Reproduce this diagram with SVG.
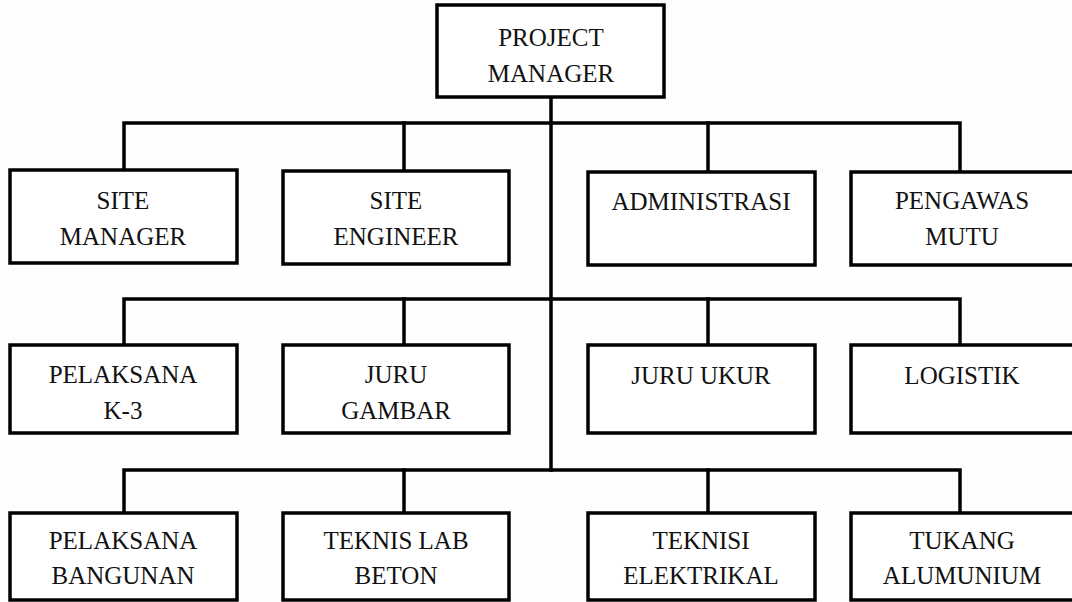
<svg xmlns="http://www.w3.org/2000/svg" width="1072" height="602" viewBox="0 0 1072 602">
<style>
.box{fill:#ffffff;stroke:#000;stroke-width:3.5}
.ln{fill:none;stroke:#000;stroke-width:3.5;stroke-linecap:square}
text{font-family:"Liberation Serif","Times New Roman",serif;font-size:25px;fill:#111;text-anchor:middle}
</style>
<rect x="0" y="0" width="1072" height="602" fill="#fefefe"/>
<g id="connectors">
<path class="ln" d="M551,97 V470"/>
<path class="ln" d="M124,170 V123 H960 V170"/>
<path class="ln" d="M404,123 V170 M708,123 V172"/>
<path class="ln" d="M124,345 V299 H960 V345"/>
<path class="ln" d="M404,299 V345 M708,299 V345"/>
<path class="ln" d="M124,513 V470 H960 V513"/>
<path class="ln" d="M404,470 V513 M708,470 V513"/>
</g>
<g id="project-manager"><rect class="box" x="437" y="5" width="227" height="92"/><text x="551" y="46">PROJECT</text><text x="551" y="82">MANAGER</text></g>
<g id="site-manager"><rect class="box" x="10" y="170" width="227" height="93"/><text x="123" y="209">SITE</text><text x="123" y="245">MANAGER</text></g>
<g id="site-engineer"><rect class="box" x="283" y="171" width="226" height="93"/><text x="396" y="209">SITE</text><text x="396" y="245">ENGINEER</text></g>
<g id="administrasi"><rect class="box" x="588" y="172" width="227" height="93"/><text x="701" y="210">ADMINISTRASI</text></g>
<g id="pengawas-mutu"><rect class="box" x="851" y="172" width="225" height="93"/><text x="962" y="209">PENGAWAS</text><text x="962" y="245">MUTU</text></g>
<g id="pelaksana-k3"><rect class="box" x="10" y="345" width="227" height="88"/><text x="123" y="383">PELAKSANA</text><text x="123" y="419">K-3</text></g>
<g id="juru-gambar"><rect class="box" x="283" y="345" width="226" height="88"/><text x="396" y="383">JURU</text><text x="396" y="419">GAMBAR</text></g>
<g id="juru-ukur"><rect class="box" x="588" y="345" width="227" height="88"/><text x="701" y="384">JURU UKUR</text></g>
<g id="logistik"><rect class="box" x="851" y="345" width="225" height="88"/><text x="962" y="384">LOGISTIK</text></g>
<g id="pelaksana-bangunan"><rect class="box" x="10" y="513" width="227" height="87"/><text x="123" y="549">PELAKSANA</text><text x="123" y="584">BANGUNAN</text></g>
<g id="teknis-lab-beton"><rect class="box" x="283" y="513" width="226" height="87"/><text x="396" y="549">TEKNIS LAB</text><text x="396" y="584">BETON</text></g>
<g id="teknisi-elektrikal"><rect class="box" x="588" y="513" width="227" height="87"/><text x="701" y="549">TEKNISI</text><text x="701" y="584">ELEKTRIKAL</text></g>
<g id="tukang-alumunium"><rect class="box" x="851" y="513" width="225" height="87"/><text x="962" y="549">TUKANG</text><text x="962" y="584">ALUMUNIUM</text></g>
</svg>
